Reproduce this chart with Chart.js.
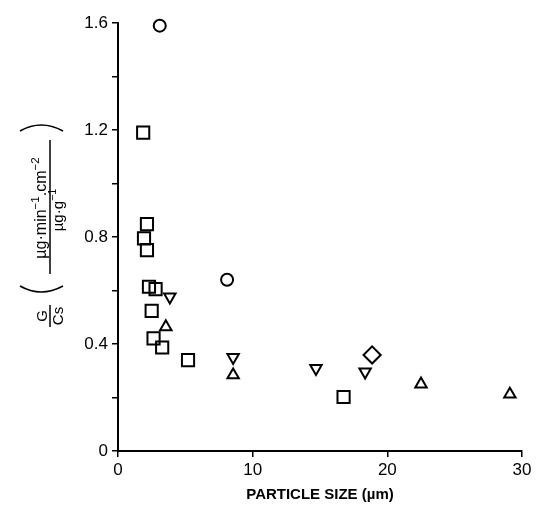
<!DOCTYPE html>
<html>
<head>
<meta charset="utf-8">
<script src="https://cdn.jsdelivr.net/npm/chart.js@4"></script>
<style>
  body { margin: 0; background: #fff; }
  #wrap { width: 536px; height: 510px; }
</style>
</head>
<body>
<div id="wrap"><canvas id="c"></canvas></div>
<script>
// values
const circleX = [3.1, 8.1];
const circleY = [1.59, 0.64];
const squareX = [1.87, 2.15, 1.93, 2.15, 2.3, 2.79, 2.5, 2.64, 3.28, 5.2, 16.75];
const squareY = [1.19, 0.848, 0.795, 0.751, 0.614, 0.605, 0.524, 0.421, 0.387, 0.34, 0.202];
const downX = [3.85, 8.55, 14.7, 18.35];
const downY = [0.576, 0.35, 0.309, 0.296];
const upX = [3.55, 8.55, 22.5, 29.1];
const upY = [0.464, 0.284, 0.25, 0.212];
const diamondX = [18.87];
const diamondY = [0.359];

const xTicks = [0, 10, 20, 30];
const yLabels = ['0', '0.4', '0.8', '1.2', '1.6'];

const FONT = '"Liberation Sans", Arial, sans-serif';

const pts = (xs, ys) => xs.map((x, i) => ({ x: x, y: ys[i] }));

function mk(xs, ys, style, r, rot) {
  return {
    data: pts(xs, ys),
    pointStyle: style,
    pointRadius: r,
    pointRotation: rot || 0,
    pointBorderColor: '#000',
    pointBackgroundColor: 'rgba(0,0,0,0)',
    pointBorderWidth: 2,
    showLine: false
  };
}

// draws text pieces (with superscripts) centred on u, in the rotated frame
function runs(ctx, parts, cu, v, size) {
  let w = 0;
  parts.forEach(p => {
    ctx.font = (p.sup ? size * 0.72 : size) + 'px ' + FONT;
    w += ctx.measureText(p.t).width;
  });
  let u = cu - w / 2;
  parts.forEach(p => {
    ctx.font = (p.sup ? size * 0.72 : size) + 'px ' + FONT;
    ctx.fillText(p.t, u, p.sup ? v - size * 0.45 : v);
    u += ctx.measureText(p.t).width;
  });
  return w;
}

const yTitle = {
  id: 'yTitle',
  afterDraw(chart) {
    const ctx = chart.ctx;
    ctx.save();
    ctx.rotate(-Math.PI / 2); // screen x = v, screen y = -u
    ctx.fillStyle = '#000';
    ctx.strokeStyle = '#000';
    ctx.textBaseline = 'alphabetic';

    // G / Cs
    runs(ctx, [{ t: 'G' }], -316, 47, 15);
    runs(ctx, [{ t: 'C' }, { t: 's' }], -316, 63, 15);
    ctx.lineWidth = 1.5;
    ctx.beginPath();
    ctx.moveTo(-327, 50); ctx.lineTo(-305, 50);
    ctx.stroke();

    // big brackets
    ctx.lineWidth = 1.6;
    ctx.beginPath();
    ctx.moveTo(-286, 20); ctx.quadraticCurveTo(-298, 41, -286, 63);
    ctx.stroke();
    ctx.beginPath();
    ctx.moveTo(-131, 20); ctx.quadraticCurveTo(-119, 41, -131, 63);
    ctx.stroke();

    // unit fraction
    runs(ctx, [{ t: 'µg·min' }, { t: '−1', sup: true }, { t: '.cm' }, { t: '−2', sup: true }], -208, 46, 16);
    runs(ctx, [{ t: 'µg·g' }, { t: '−1', sup: true }], -210, 63, 15);
    ctx.lineWidth = 1.5;
    ctx.beginPath();
    ctx.moveTo(-274, 50); ctx.lineTo(-140, 50);
    ctx.stroke();
    ctx.restore();
  }
};

new Chart(document.getElementById('c'), {
  type: 'scatter',
  data: {
    datasets: [
      mk(circleX, circleY, 'circle', 6),
      mk(squareX, squareY, 'rect', 8.6),
      mk(downX, downY, 'triangle', 6.6, 180),
      mk(upX, upY, 'triangle', 6.6),
      mk(diamondX, diamondY, 'rectRot', 8.6)
    ]
  },
  options: {
    responsive: true,
    maintainAspectRatio: false,
    animation: false,
    clip: false,
    layout: { padding: { left: 0, right: 14, top: 23, bottom: 0 } },
    plugins: { legend: { display: false }, tooltip: { enabled: false } },
    scales: {
      x: {
        type: 'linear',
        min: 0, max: 30,
        afterFit: s => { s.height = 59; },
        afterBuildTicks: s => { s.ticks = xTicks.map(v => ({ value: v })); },
        border: { color: '#000', width: 2 },
        grid: { drawOnChartArea: false, color: '#000', lineWidth: 1.5, tickLength: 6 },
        ticks: { color: '#000', padding: 3, maxRotation: 0, font: { family: FONT, size: 17 } },
        title: {
          display: true, text: 'PARTICLE SIZE (µm)', color: '#000',
          font: { family: FONT, size: 15, weight: 'bold' }, padding: { top: 0, bottom: 6 }
        }
      },
      y: {
        type: 'linear',
        min: 0, max: 1.6,
        afterFit: s => { s.width = 118; },
        border: { color: '#000', width: 2 },
        grid: { drawOnChartArea: false, color: '#000', lineWidth: 1.5, tickLength: 6 },
        ticks: {
          stepSize: 0.2, color: '#000', padding: 4,
          font: { family: FONT, size: 17 },
          callback: v => {
            const k = Math.round(v * 10);
            return k % 4 === 0 ? yLabels[k / 4] : '';
          }
        }
      }
    }
  },
  plugins: [yTitle]
});
</script>
</body>
</html>
